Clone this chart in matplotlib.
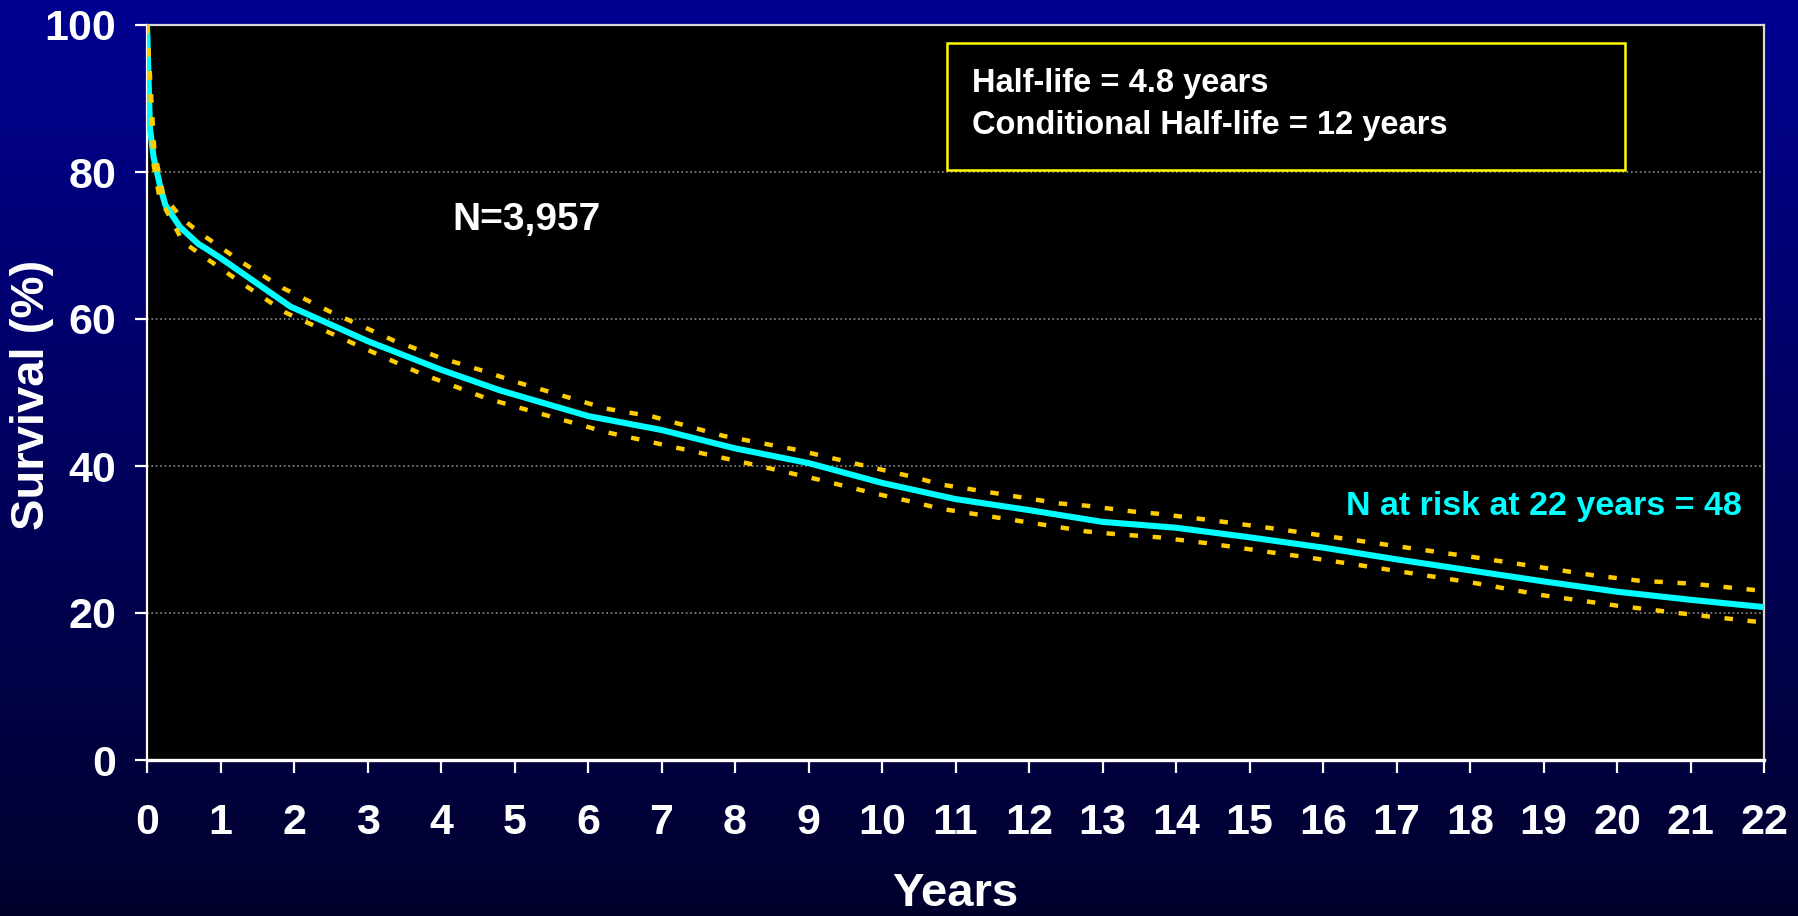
import numpy as np
import matplotlib.pyplot as plt
from matplotlib.patches import Rectangle

plt.rcParams['font.family'] = ['Liberation Sans', 'DejaVu Sans']
plt.rcParams['font.weight'] = 'bold'

# survival curve (years, %)
years = [0, 0.04, 0.09, 0.18, 0.25, 0.45, 0.7, 0.8, 1.0, 1.95, 3, 4, 4.8, 6, 7, 8, 9, 10,
         11, 12, 13, 14, 15, 16, 17, 18, 19, 20, 21, 22]
survival = [100, 86, 82, 78, 75.5, 72.5, 70.2, 69.6, 68.3, 61.7, 57, 53.1, 50.3, 46.8, 44.9,
            42.4, 40.4, 37.7, 35.5, 34.0, 32.4, 31.6, 30.3, 28.9, 27.3, 25.8, 24.3, 22.9,
            21.8, 20.8]

# confidence limits
upper_years = [0, 0.1, 0.22, 0.47, 0.72, 1.31, 1.85, 2.49, 3.35, 4.0, 4.62, 5.0, 6.25, 6.89,
               7.84, 8.84, 9.52, 10.47, 10.79, 12.42, 12.78, 13.42, 13.76, 14.42, 15.4,
               16.37, 18.05, 19.7, 20.3, 21.0, 22.0]
upper = [100, 83, 76.9, 73.7, 71.7, 67.6, 64.2, 61.0, 57.1, 54.7, 52.8, 51.5, 47.8, 46.7,
         44.1, 42.2, 40.6, 38.4, 37.5, 34.9, 34.6, 33.8, 33.5, 32.7, 31.4, 30.0, 27.6,
         25.1, 24.4, 24.0, 23.0]
lower_years = [0, 0.09, 0.17, 0.49, 0.77, 1.36, 1.9, 2.8, 3.72, 4.62, 4.97, 6.25, 7.2, 8.2,
               9.16, 9.84, 10.47, 10.79, 12.78, 13.1, 13.76, 14.42, 15.4, 15.7, 16.37,
               18.05, 19.0, 20.0, 21.0, 22.0]
lower = [100, 81, 76.5, 70.5, 68.5, 64.4, 60.8, 56.7, 52.6, 49.2, 48.2, 44.6, 42.5, 40.3,
         38.1, 36.4, 35.0, 34.2, 31.1, 30.8, 30.3, 29.5, 28.1, 27.7, 26.7, 24.1, 22.4,
         21.0, 19.8, 18.7]

fig = plt.figure(figsize=(17.98, 9.16), dpi=100)

# gradient background
bg = fig.add_axes([0, 0, 1, 1], zorder=-10)
grad = np.linspace(0, 1, 256).reshape(-1, 1)
top_c = np.array([0, 0, 145]) / 255
bot_c = np.array([0, 0, 45]) / 255
img = top_c[None, None, :] * (1 - grad[:, :, None]) + bot_c[None, None, :] * grad[:, :, None]
bg.imshow(img, aspect='auto', extent=[0, 1, 0, 1])
bg.axis('off')

ax = fig.add_axes([147 / 1798, 1 - 760 / 916, (1764 - 147) / 1798, (760 - 25) / 916])
ax.set_facecolor('black')

ax.plot(years, survival, color='#00FFFF', lw=4.4, zorder=3, solid_joinstyle='round')
ax.plot(upper_years, upper, color='#FFCC00', lw=3.2, dashes=(1.9, 3.3), zorder=4)
ax.plot(lower_years, lower, color='#FFCC00', lw=3.2, dashes=(1.9, 3.3), zorder=4)

ax.set_xlim(0, 22)
ax.set_ylim(0, 100)
ax.set_xticks(range(0, 23))
ax.set_yticks(range(0, 101, 20))
ax.yaxis.grid(True, color='#8a8a8a', linestyle=':', linewidth=1.2)
ax.set_axisbelow(True)

ax.tick_params(axis='both', colors='white', labelsize=31, length=9, width=1.6,
               direction='out')
ax.tick_params(axis='x', pad=22)
ax.tick_params(axis='y', pad=13)
for lab in ax.get_xticklabels() + ax.get_yticklabels():
    lab.set_fontweight('bold')

ax.spines['left'].set_color('white')
ax.spines['left'].set_linewidth(1.6)
ax.spines['bottom'].set_color('white')
ax.spines['bottom'].set_linewidth(2.4)
ax.spines['top'].set_color('#d8d8d8')
ax.spines['top'].set_linewidth(1.6)
ax.spines['right'].set_color('#d8d8d8')
ax.spines['right'].set_linewidth(1.6)

fig.text(955 / 1798, 1 - 894 / 916, 'Years', color='white', fontsize=34,
         fontweight='bold', ha='center', va='center')
fig.text(32 / 1798, 1 - 395 / 916, 'Survival (%)', color='white', fontsize=34,
         fontweight='bold', ha='center', va='center', rotation=90)

ax.text(4.15, 72.1, 'N=3,957', color='white', fontsize=28, fontweight='bold',
        ha='left', va='baseline')
ax.text(19.0, 33.3, 'N at risk at 22 years = 48', color='#00FFFF', fontsize=24.5,
        fontweight='bold', ha='center', va='baseline')

ax.add_patch(Rectangle((10.88, 80.3), 20.11 - 10.88, 97.6 - 80.3, fill=False,
                       edgecolor='#FFFF00', lw=1.8, zorder=5))
ax.text(11.22, 90.9, 'Half-life = 4.8 years', color='white', fontsize=23.5,
        fontweight='bold', ha='left', va='baseline')
ax.text(11.22, 85.2, 'Conditional Half-life = 12 years', color='white', fontsize=23.5,
        fontweight='bold', ha='left', va='baseline')

plt.savefig('out.png', dpi=100)
